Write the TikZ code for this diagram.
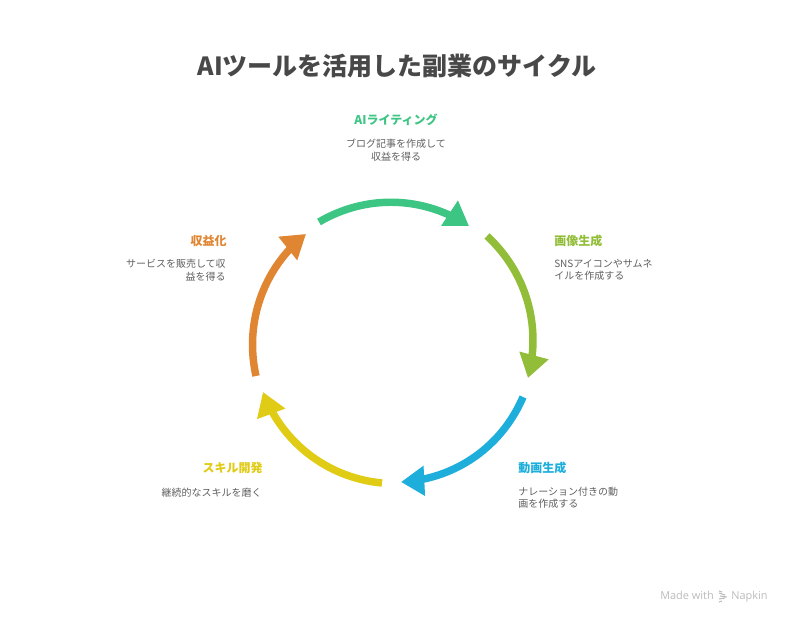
\documentclass[tikz,border=0pt]{standalone}
\usepackage{fontspec}
\setmainfont{Noto Sans CJK JP}
\newfontfamily\markfont{Open Sans}
\usetikzlibrary{arrows.meta,bending}
\definecolor{cgreen}{HTML}{3CC583}
\definecolor{clime}{HTML}{92BD39}
\definecolor{cblue}{HTML}{1DAEDB}
\definecolor{cyellow}{HTML}{E0CB15}
\definecolor{corange}{HTML}{E08531}
\definecolor{ctitle}{HTML}{484848}
\definecolor{cdesc}{HTML}{5F5F5F}
\definecolor{cmark}{HTML}{BBBBBB}
\tikzset{
    arc/.style={line width=5.6pt,-{Triangle[length=17.5pt,width=21.5pt,flex=0]},bend left=#1,looseness=0.93},
    head/.style={font=\fontsize{9}{11}\selectfont\bfseries,inner sep=0pt},
    desc/.style={font=\fontsize{7.5}{9.4}\selectfont,text=cdesc,inner sep=0pt},
    mark text/.style={font=\markfont\fontsize{8.2}{10}\selectfont,text=cmark,inner sep=0pt},
}

\begin{document}
\begin{tikzpicture}[x=0.75pt,y=0.75pt]
    \useasboundingbox (0,0) rectangle (792,624);
    \node[font=\fontsize{18.75}{22}\selectfont\bfseries,text=ctitle] (title) at (397,558) {AIツールを活用した副業のサイクル};
    % labels
    \node[head,text=cgreen] (h1) at (396,504) {AIライティング};
    \node[desc,align=center,anchor=center] (d1) at (396,474) {ブログ記事を作成して\\収益を得る};
    \node[head,text=clime,anchor=west] (h2) at (554,383) {画像生成};
    \node[desc,align=left,anchor=west] (d2) at (554,354) {SNSアイコンやサムネ\\イルを作成する};
    \node[head,text=cblue,anchor=west] (h3) at (518,156) {動画生成};
    \node[desc,align=left,anchor=west] (d3) at (518,126) {ナレーション付きの動\\画を作成する};
    \node[head,text=cyellow,anchor=east] (h4) at (263,156) {スキル開発};
    \node[desc,align=right,anchor=east] (d4) at (262,131) {継続的なスキルを磨く};
    \node[head,text=corange,anchor=east] (h5) at (227,383) {収益化};
    \node[desc,align=right,anchor=east] (d5) at (226,354) {サービスを販売して収\\益を得る};
    % cycle
    \coordinate (a1) at (319,402);
    \coordinate (b1) at (469,398);
    \coordinate (a2) at (487,388);
    \coordinate (b2) at (528,246);
    \coordinate (a3) at (523,227);
    \coordinate (b3) at (401,142);
    \coordinate (a4) at (382,141);
    \coordinate (b4) at (263,232);
    \coordinate (a5) at (256,248);
    \coordinate (b5) at (306,390);
    \draw[arc=32,cgreen] (a1) to (b1);
    \draw[arc=31,clime] (a2) to (b2);
    \draw[arc=32,cblue] (a3) to (b3);
    \draw[arc=32,cyellow] (a4) to (b4);
    \draw[arc=32,corange] (a5) to (b5);
    % watermark
    \node[mark text,anchor=base east] (made) at (714,24) {Made with};
    \node[mark text,anchor=base west] (napkin) at (731,24) {Napkin};
    \draw[cmark,line width=0.8pt] (719,33) -- (722,32) (719,31) -- (725,29) (720,28) -- (727,27) (719,25) -- (725,26) (719,22) -- (722,23);
\end{tikzpicture}
\end{document}
